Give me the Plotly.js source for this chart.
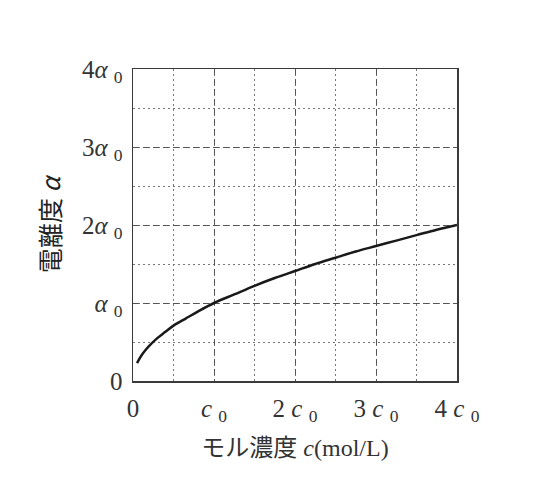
<!DOCTYPE html>
<html>
<head>
<meta charset="utf-8">
<script src="https://cdn.plot.ly/plotly-3.0.1.min.js"></script>
<style>
  html, body { margin: 0; padding: 0; background: #fff; }
  #chart { width: 547px; height: 495px; }
</style>
</head>
<body>
<div id="chart"></div>
<script>
// concentration c (in units of c0) and degree of dissociation (in units of alpha0)
var concValues = [0.05, 0.1, 0.15, 0.2, 0.3, 0.4, 0.5, 0.65, 0.8, 1.0, 1.25, 1.5, 1.75, 2.0, 2.25, 2.5, 2.75, 3.0, 3.25, 3.5, 3.75, 4.0];
var alphaValues = [0.23, 0.32, 0.39, 0.45, 0.55, 0.63, 0.71, 0.8, 0.89, 1.0, 1.11, 1.22, 1.32, 1.41, 1.5, 1.58, 1.66, 1.73, 1.8, 1.87, 1.94, 2.0];

// tick labels
var xTickVals = [0, 1, 2, 3, 4];
var xTickText = ['0', '<i>c</i> <sub>0</sub>', '2 <i>c</i> <sub>0</sub>', '3 <i>c</i> <sub>0</sub>', '4 <i>c</i> <sub>0</sub>'];
var yTickVals = [0, 1, 2, 3, 4];
var yTickText = ['0', '<i>α</i> <sub>0</sub>', '2<i>α</i> <sub>0</sub>', '3<i>α</i> <sub>0</sub>', '4<i>α</i> <sub>0</sub>'];

var serif = '"Liberation Serif", "DejaVu Serif", "Noto Sans CJK JP", serif';

var trace = {
  x: concValues,
  y: alphaValues,
  type: 'scatter',
  mode: 'lines',
  line: { color: '#1a1a1a', width: 2.5, shape: 'spline', smoothing: 1 },
  hoverinfo: 'skip'
};

// shared axis look: dashed major grid, dotted half-step grid, closed frame
function axisStyle(tickVals, tickText) {
  return {
    range: [0, 4],
    tickvals: tickVals,
    ticktext: tickText,
    ticks: '',
    showline: true,
    mirror: true,
    linecolor: '#3a3a3a',
    linewidth: 1.5,
    showgrid: true,
    gridcolor: '#555',
    gridwidth: 1,
    griddash: '6px,4px',
    minor: {
      dtick: 0.5,
      tick0: 0,
      showgrid: true,
      gridcolor: '#777',
      gridwidth: 1,
      griddash: '2px,3px'
    },
    zeroline: false,
    fixedrange: true,
    tickfont: { family: serif, size: 25, color: '#333' }
  };
}

var xaxis = axisStyle(xTickVals, xTickText);
xaxis.ticklabelstandoff = 4;
xaxis.title = {
  text: 'モル濃度 <i>c</i>(mol/L)',
  font: { family: serif, size: 24, color: '#333' },
  standoff: 14
};

var yaxis = axisStyle(yTickVals, yTickText);
yaxis.ticklabelstandoff = 4;
yaxis.title = {
  text: '電離度 <i>α</i>',
  font: { family: '"Noto Sans CJK JP", sans-serif', size: 25, color: '#222' },
  standoff: 14
};

var layout = {
  width: 547,
  height: 495,
  margin: { l: 133, r: 90, t: 69, b: 114 },
  paper_bgcolor: '#fff',
  plot_bgcolor: '#fff',
  showlegend: false,
  xaxis: xaxis,
  yaxis: yaxis
};

Plotly.newPlot('chart', [trace], layout, { displayModeBar: false, staticPlot: true });
</script>
</body>
</html>
